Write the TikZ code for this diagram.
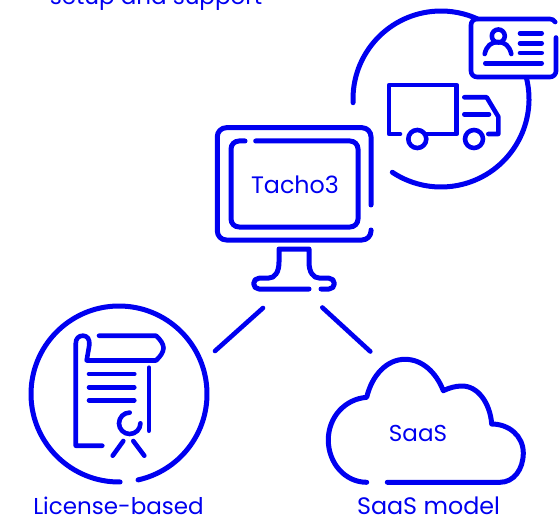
\documentclass[tikz,border=0pt]{standalone}
\usepackage{fontspec}
\setmainfont{Poppins}
\definecolor{iconblue}{HTML}{0000F0}
\tikzset{
  icon/.style={draw=iconblue,line width=5pt,line cap=round,line join=round},
  thin icon/.style={icon,line width=4.6pt},
  lbl/.style={text=iconblue,font=\fontsize{23}{28}\selectfont,inner sep=0pt,anchor=base},
  lblb/.style={lbl,font=\fontsize{23.8}{28}\selectfont}
}
\begin{document}
\begin{tikzpicture}[x=1pt,y=-1pt]
\useasboundingbox (0,0) rectangle (560,516);
% top clipped text
\node[lbl] (cut) at (156,5) {setup and support};
% truck circle
\draw[icon] (441,99) ++(177.6:88) arc[start angle=177.6,end angle=294.3,radius=88];
\draw[icon] (441,99) ++(-13.6:88) arc[start angle=-13.6,end angle=123.6,radius=88];
% card
\draw[thin icon] (556,37.5) -- (556,71) arc[start angle=0,end angle=90,radius=6] -- (477,77) arc[start angle=90,end angle=180,radius=6] -- (471,25) arc[start angle=180,end angle=270,radius=6] -- (550,19) arc[start angle=270,end angle=330,radius=6];
\draw[thin icon] (498.3,36) circle[radius=6.5];
\draw[thin icon] (484.7,54) .. controls (486.5,46) and (491,42) .. (498,42) .. controls (505,42) and (509.5,46) .. (511.3,54);
\draw[thin icon] (520,33.3) -- (541.7,33.3) (520,43.3) -- (541.7,43.3) (520,53) -- (541.7,53) (485.3,63.3) -- (541.7,63.3);
% truck
\draw[thin icon] (400,134) -- (389,134) -- (389,85) -- (456.7,85) -- (456.7,134) -- (427,134);
\draw[thin icon] (417.3,139) circle[radius=9];
\draw[thin icon] (474,139) circle[radius=9];
\draw[thin icon] (464.3,97.3) -- (486.7,97.3) -- (498.3,116.7) -- (498.3,134) -- (488.3,134);
\draw[thin icon] (464.3,114.3) -- (489,114.3);
% monitor
\draw[icon] (371,205) -- (371,136.7) arc[start angle=0,end angle=-90,radius=9] -- (226.3,127.7) arc[start angle=-90,end angle=-180,radius=9] -- (217.3,231) arc[start angle=180,end angle=90,radius=9] -- (362,240) arc[start angle=90,end angle=0,radius=9] -- (371,230);
\draw[icon] (245,141) -- (239,141) arc[start angle=-90,end angle=-180,radius=8] -- (231,219) arc[start angle=180,end angle=90,radius=8] -- (350,227) arc[start angle=90,end angle=0,radius=8] -- (358,149) arc[start angle=0,end angle=-90,radius=8] -- (255.7,141);
\node[lblb] (tacho) at (295,193.5) {Tacho3};
% stand
\draw[icon] (309,289) -- (259,289) arc[start angle=90,end angle=270,radius=5.4] -- (268,278.2) .. controls (275,278.2) and (279,272) .. (279,262) -- (279,249) -- (309,249) -- (309,262) .. controls (309,272) and (313,278.2) .. (320,278.2) -- (329,278.2) arc[start angle=-90,end angle=90,radius=5.4] -- (321,289);
% connectors
\coordinate (cl0) at (263,308); \coordinate (cl1) at (215,351);
\coordinate (cr0) at (322.3,307.5); \coordinate (cr1) at (370.3,351.5);
\draw[thin icon] (cl0) -- (cl1);
\draw[thin icon] (cr0) -- (cr1);
% licence circle
\draw[icon] (119,394) ++(89.3:88) arc[start angle=89.3,end angle=437.5,radius=88];
% scroll
\draw[thin icon] (102.3,445.7) -- (75.7,445.7) -- (75.7,344) .. controls (75.7,338) and (79,335.7) .. (83,335.7) .. controls (87,335.7) and (90,339) .. (89.3,345) -- (86.7,360.5) -- (156,360.5) .. controls (160,357) and (163.5,352) .. (163.5,348) .. controls (163.5,344) and (160,339) .. (156,335.7) -- (99,335.7);
\draw[thin icon] (149,367.7) -- (149,430.7);
\draw[thin icon] (89,374) -- (134.3,374) (89,387.3) -- (134.3,387.3) (89,400.3) -- (134.3,400.3);
\draw[thin icon] (129.7,423.3) ++(-90:10.7) arc[start angle=-90,end angle=-360,radius=10.7];
\draw[thin icon] (123.3,441) -- (112.7,455.7) (133.3,441) -- (144.3,455.7);
\node[lbl] (lic) at (118.5,514.5) {License-based};
% cloud
\draw[icon] (387.3,482.3) -- (500,482.3) .. controls (514,482.3) and (523.3,469) .. (523.3,453) .. controls (523.3,436) and (509,424) .. (491.7,424) .. controls (490,403) and (478,386) .. (462,386) .. controls (455,386) and (449,388) .. (443.3,390.7) .. controls (436,372) and (422,359.3) .. (405,359.3) .. controls (387,359.3) and (372,375) .. (366.7,397.3) .. controls (345,399) and (328.3,417) .. (328.3,440) .. controls (328.3,463) and (345,482.3) .. (366.7,482.3);
\node[lbl] (saas) at (418,441) {SaaS};
\node[lblb] (model) at (428.5,514.5) {SaaS model};
\end{tikzpicture}
\end{document}
